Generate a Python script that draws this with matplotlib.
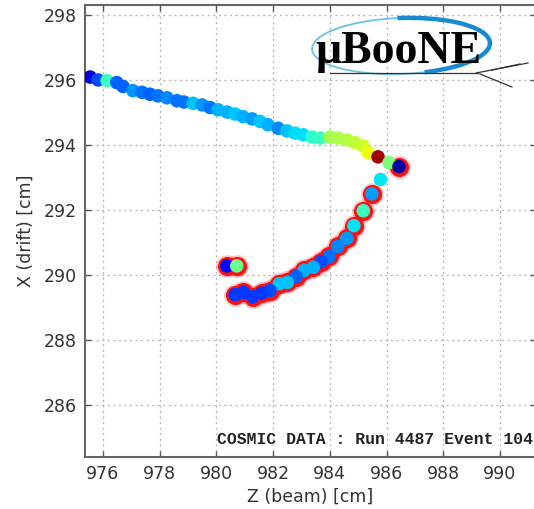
import matplotlib
matplotlib.use("Agg")
import matplotlib.pyplot as plt
from matplotlib.patches import Ellipse, Arc
from matplotlib.transforms import IdentityTransform
from matplotlib.lines import Line2D

# --- hit data -------------------------------------------------------------
# upper (through-going) track: Z, X and charge colour value
track_z = [975.55, 975.83, 976.15, 976.49, 976.71, 977.06, 977.38, 977.66, 977.94,
           978.26, 978.61, 978.86, 979.18, 979.50, 979.78, 980.06, 980.38, 980.66,
           980.94, 981.26, 981.54, 981.82, 982.18, 982.49, 982.78, 983.06, 983.37,
           983.66, 984.01, 984.29, 984.61, 984.89, 985.17, 985.35, 985.70, 986.09]
track_x = [296.10, 296.01, 295.99, 295.93, 295.81, 295.68, 295.63, 295.57, 295.52,
           295.46, 295.37, 295.33, 295.29, 295.24, 295.16, 295.09, 295.02, 294.96,
           294.88, 294.81, 294.73, 294.63, 294.52, 294.44, 294.37, 294.32, 294.25,
           294.22, 294.25, 294.22, 294.16, 294.08, 293.98, 293.77, 293.64, 293.46]
track_c = [0.08, 0.20, 0.42, 0.22, 0.22, 0.27, 0.24, 0.22, 0.24,
           0.26, 0.24, 0.24, 0.32, 0.27, 0.24, 0.30, 0.30, 0.32,
           0.30, 0.28, 0.32, 0.30, 0.26, 0.32, 0.34, 0.34, 0.40,
           0.42, 0.55, 0.56, 0.57, 0.58, 0.60, 0.64, 0.97, 0.50]

# selected (hook) hits, drawn with red outline
hook_z = [986.44, 985.48, 985.18, 984.85, 984.60, 984.28, 983.98, 983.69, 983.42,
          983.09, 982.81, 982.50, 982.22, 981.89, 981.60, 981.28, 980.95, 980.66,
          980.37, 980.72]
hook_x = [293.34, 292.50, 291.98, 291.52, 291.13, 290.88, 290.57, 290.41, 290.24,
          290.14, 289.95, 289.77, 289.73, 289.52, 289.44, 289.33, 289.46, 289.39,
          290.28, 290.28]
hook_c = [0.03, 0.28, 0.42, 0.35, 0.28, 0.26, 0.24, 0.20, 0.30,
          0.30, 0.22, 0.32, 0.32, 0.20, 0.18, 0.18, 0.18, 0.18,
          0.12, 0.48]

# single unselected hit between the two
lone_z = [985.77]
lone_x = [292.96]
lone_c = [0.35]

x_ticks = [976, 978, 980, 982, 984, 986, 988, 990]
y_ticks = [286, 288, 290, 292, 294, 296, 298]

W, H = 534, 509
fig = plt.figure(figsize=(W / 100, H / 100), dpi=100)
ax_l, ax_r, ax_t, ax_b = 85, 536, 5, 457
ax = fig.add_axes([ax_l / W, 1 - ax_b / H, (ax_r - ax_l) / W, (ax_b - ax_t) / H])
ax.set_xlim(975.37, 991.27)
ax.set_ylim(284.39, 298.32)

cmap = plt.get_cmap("jet")

ax.grid(True, color="#b8b8b8", linestyle=(0, (1.5, 2.5)), linewidth=1.0)
ax.set_axisbelow(True)

# red halo behind selected hits
ax.scatter(hook_z, hook_x, s=270, color="red", alpha=0.22, linewidths=0, zorder=2)
ax.scatter(hook_z, hook_x, s=190, color="#ff1010", linewidths=0, zorder=3)

ax.scatter(track_z, track_x, s=95, c=track_c, cmap=cmap, vmin=0, vmax=1,
           linewidths=0, zorder=4)
ax.scatter(lone_z, lone_x, s=95, c=lone_c, cmap=cmap, vmin=0, vmax=1,
           linewidths=0, zorder=4)
ax.scatter(hook_z, hook_x, s=95, c=hook_c, cmap=cmap, vmin=0, vmax=1,
           linewidths=0, zorder=5)

ax.set_xticks(x_ticks)
ax.set_yticks(y_ticks)
ax.tick_params(direction="in", length=4, width=1, colors="#555555",
               labelcolor="#333333", labelsize=12.5, top=True, right=True, pad=6)
for s in ax.spines.values():
    s.set_color("#666666")
    s.set_linewidth(1.5)

ax.set_xlabel("Z (beam) [cm]", fontsize=12.5, color="#333333", labelpad=3)
ax.set_ylabel("X (drift) [cm]", fontsize=12.5, color="#333333", labelpad=6)


def px(x, y):
    return x, H - y


ident = IdentityTransform()

tx, ty = px(217, 440)
fig.text(tx, ty, "COSMIC DATA : Run 4487 Event 104", transform=ident,
         fontsize=11.8, family="Liberation Mono", fontweight="bold",
         color="#222222", ha="left", va="center", zorder=6)

# logo: ellipse swoosh, name and a small track sketch
fig.patches.append(Ellipse(px(401, 46), 178, 56, angle=2, fill=False,
                           edgecolor="#6cc0ec", linewidth=1.3, transform=ident))
fig.patches.append(Arc(px(401, 46), 178, 56, angle=2, theta1=-50, theta2=95,
                       edgecolor="#1a8ad0", linewidth=3.2, transform=ident))
lx, ly = px(398, 52)
fig.text(lx, ly, "\u03bcBooNE", transform=ident, fontsize=33,
         family="Liberation Serif", fontweight="bold", color="black",
         ha="center", va="center")
for (x0, y0), (x1, y1) in [((476, 73), (528, 63)), ((480, 74), (512, 87)),
                           ((492, 70), (520, 64)), ((330, 73), (478, 73))]:
    X0, Y0 = px(x0, y0)
    X1, Y1 = px(x1, y1)
    fig.lines.append(Line2D([X0, X1], [Y0, Y1], color="#333333", linewidth=0.9,
                            transform=ident))

fig.savefig("out.png", dpi=100)
